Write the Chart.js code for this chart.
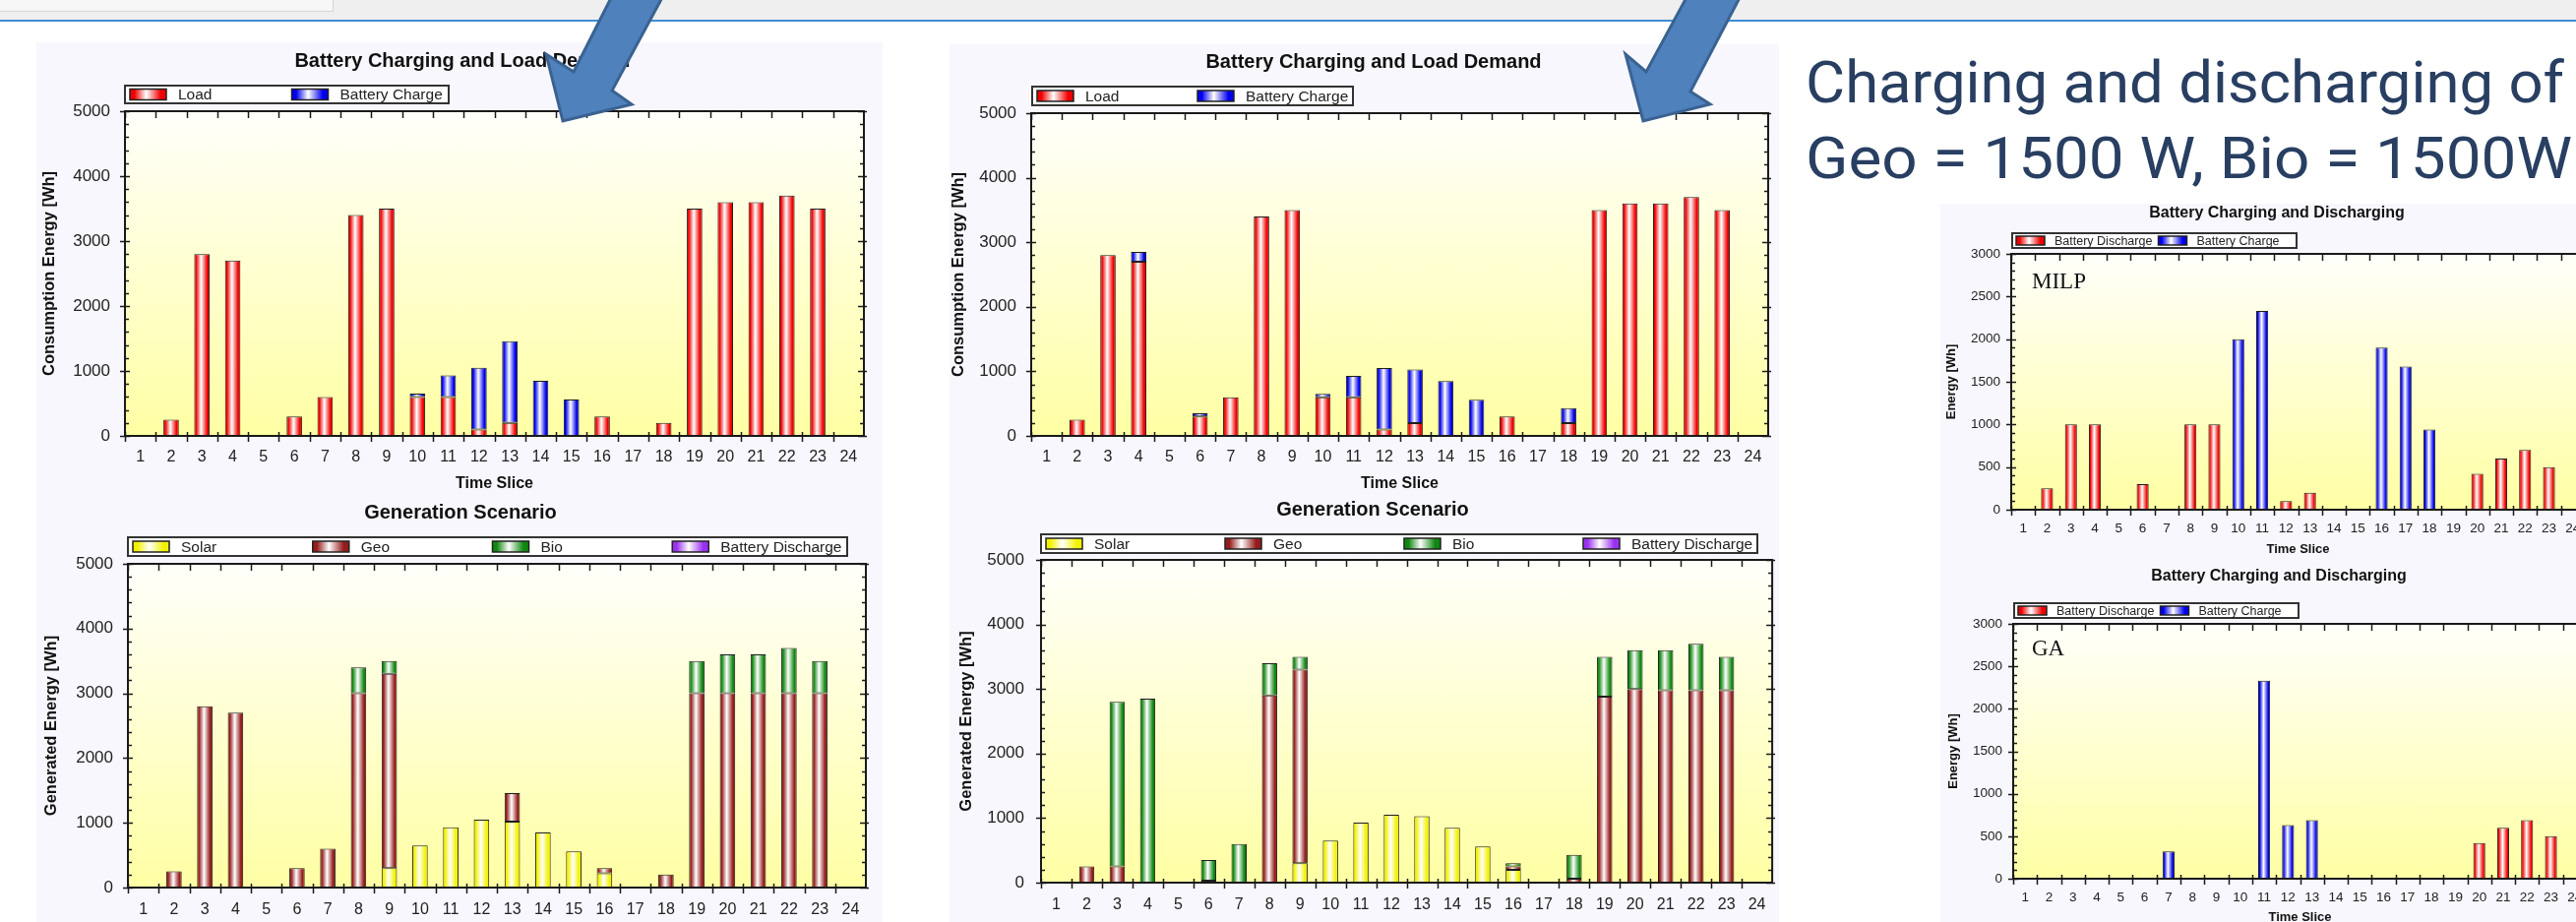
<!DOCTYPE html>
<html>
<head>
<meta charset="utf-8">
<script src="https://cdn.jsdelivr.net/npm/chart.js@4.4.1/dist/chart.umd.min.js"></script>
<style>
body{margin:0;width:2618px;height:937px;overflow:hidden;position:relative;background:#fff;font-family:'Liberation Sans',Arial,sans-serif}
.abs{position:absolute}
.panel{position:absolute;background:#f7f7fd}
canvas{position:absolute}
.head{position:absolute;left:1835px;font-family:Roboto,'Liberation Sans',sans-serif;font-size:59px;line-height:59px;color:#283f62;white-space:pre;transform-origin:0 0}
</style>
</head>
<body>
<div class="abs" style="left:0;top:0;width:2618px;height:20px;background:#efefef"></div>
<div class="abs" style="left:0;top:0;width:338px;height:11px;background:#f7f7f7;border-right:1px solid #d6d6d6;border-bottom:1px solid #d6d6d6"></div>
<div class="abs" style="left:0;top:20px;width:2618px;height:2px;background:#3f8fd6"></div>

<div class="panel" style="left:37px;top:43px;width:860px;height:894px"></div>
<div class="panel" style="left:965px;top:45px;width:843px;height:892px"></div>
<div class="panel" style="left:1972px;top:207px;width:646px;height:730px"></div>

<canvas id="loadLeft"></canvas>
<canvas id="genLeft"></canvas>
<canvas id="loadMid"></canvas>
<canvas id="genMid"></canvas>
<canvas id="milpChart"></canvas>
<canvas id="gaChart"></canvas>

<div class="head" id="head1" style="top:54px">Charging and discharging of</div>
<div class="head" id="head2" style="top:131px">Geo = 1500 W, Bio = 1500W</div>

<svg class="abs" style="left:0;top:0;z-index:10" width="2618" height="937">
  <polygon points="624,-8 676,-8 622,92 642,106 572,123 555,55 583,73" fill="#4f81bd" stroke="#3a6291" stroke-width="3"/>
  <polygon points="1717,-8 1771,-8 1718,93 1738,106 1670,123 1652,55 1673,73" fill="#4f81bd" stroke="#3a6291" stroke-width="3"/>
</svg>

<script>
// time slices on the x axis
const slices = ['1','2','3','4','5','6','7','8','9','10','11','12','13','14','15','16','17','18','19','20','21','22','23','24'];
const energy5000 = [0, 1000, 2000, 3000, 4000, 5000];
const energy3000 = [0, 500, 1000, 1500, 2000, 2500, 3000];

// left pair
const loadA      = [0, 250, 2800, 2700, 0, 300, 600, 3400, 3500, 600, 600, 100, 200, 0, 0, 300, 0, 200, 3500, 3600, 3600, 3700, 3500, 0];
const chargeA    = [0, 0, 0, 0, 0, 0, 0, 0, 0, 50, 330, 950, 1260, 850, 560, 0, 0, 0, 0, 0, 0, 0, 0, 0];
const solarA     = [0, 0, 0, 0, 0, 0, 0, 0, 300, 650, 930, 1050, 1020, 850, 560, 220, 0, 0, 0, 0, 0, 0, 0, 0];
const geoA       = [0, 250, 2800, 2700, 0, 300, 600, 3000, 3000, 0, 0, 0, 440, 0, 0, 80, 0, 200, 3000, 3000, 3000, 3000, 3000, 0];
const bioA       = [0, 0, 0, 0, 0, 0, 0, 400, 200, 0, 0, 0, 0, 0, 0, 0, 0, 0, 500, 600, 600, 700, 500, 0];
const dischargeA = [0, 0, 0, 0, 0, 0, 0, 0, 0, 0, 0, 0, 0, 0, 0, 0, 0, 0, 0, 0, 0, 0, 0, 0];

// middle pair
const loadB      = [0, 250, 2800, 2700, 0, 300, 600, 3400, 3500, 600, 600, 100, 200, 0, 0, 300, 0, 200, 3500, 3600, 3600, 3700, 3500, 0];
const chargeB    = [0, 0, 0, 150, 0, 50, 0, 0, 0, 50, 330, 950, 830, 850, 560, 0, 0, 230, 0, 0, 0, 0, 0, 0];
const solarB     = [0, 0, 0, 0, 0, 0, 0, 0, 300, 650, 930, 1050, 1030, 850, 560, 200, 0, 0, 0, 0, 0, 0, 0, 0];
const geoB       = [0, 250, 250, 0, 0, 30, 0, 2900, 3000, 0, 0, 0, 0, 0, 0, 50, 0, 60, 2880, 3000, 2980, 2980, 2980, 0];
const bioB       = [0, 0, 2550, 2850, 0, 320, 600, 500, 200, 0, 0, 0, 0, 0, 0, 50, 0, 370, 620, 600, 620, 720, 520, 0];
const dischargeB = [0, 0, 0, 0, 0, 0, 0, 0, 0, 0, 0, 0, 0, 0, 0, 0, 0, 0, 0, 0, 0, 0, 0, 0];

// right pair
const milpDischarge = [0, 250, 1000, 1000, 0, 300, 10, 1000, 1000, 0, 0, 100, 200, 0, 0, 0, 0, 0, 0, 420, 600, 700, 500, 0];
const milpCharge    = [0, 0, 0, 0, 0, 0, 0, 0, 0, 2000, 2330, 0, 0, 0, 0, 1900, 1680, 940, 0, 0, 0, 0, 0, 0];
const gaDischarge   = [0, 0, 0, 0, 0, 0, 0, 0, 0, 0, 0, 0, 0, 0, 0, 0, 0, 0, 0, 420, 600, 690, 500, 0];
const gaCharge      = [0, 0, 0, 0, 0, 0, 320, 0, 0, 0, 2330, 630, 690, 0, 0, 0, 0, 0, 0, 0, 0, 0, 0, 0];

const RED = ['#f00000', '#ffffff'];
const BLUE = ['#0000ee', '#ffffff'];
const YELLOW = ['#f2f200', '#ffffff'];
const GEO = ['#951c1c', '#ffffff'];
const GREEN = ['#108810', '#ffffff'];
const PURPLE = ['#9a30f0', '#ffffff'];

const FONT = "'Liberation Sans', Arial, sans-serif";
Chart.defaults.font.family = FONT;

function shade(ctx, x0, x1, col) {
    const g = ctx.createLinearGradient(x0, 0, x1, 0);
    g.addColorStop(0, col[0]);
    g.addColorStop(0.12, col[0]);
    g.addColorStop(0.45, col[1]);
    g.addColorStop(0.85, col[0]);
    g.addColorStop(1, col[0]);
    return g;
}

function barFill(c, col) {
    if (c.type !== 'data') return col[0];
    const xs = c.chart.scales.x;
    if (!xs || !xs.width) return col[0];
    const step = xs.width / c.chart.data.labels.length;
    const cx = xs.getPixelForValue(c.dataIndex);
    return shade(c.chart.ctx, cx - step * 0.25, cx + step * 0.25, col);
}

function decoPlugin(cfg) {
    const bx = cfg.box.x, by = cfg.box.y;
    return {
        id: 'deco',
        beforeDatasetsDraw(chart) {
            const ctx = chart.ctx, a = chart.chartArea;
            const g = ctx.createLinearGradient(0, a.top, 0, a.bottom);
            g.addColorStop(0, '#fffffb');
            g.addColorStop(1, '#ffffa4');
            ctx.save();
            ctx.fillStyle = g;
            ctx.fillRect(a.left, a.top, a.right - a.left, a.bottom - a.top);
            ctx.restore();
        },
        afterDatasetsDraw(chart) {
            const ctx = chart.ctx, a = chart.chartArea;
            const xs = chart.scales.x, ys = chart.scales.y;
            const n = chart.data.labels.length;
            const step = xs.width / n;
            ctx.save();
            ctx.strokeStyle = '#1a1a1a';
            ctx.lineWidth = 2;
            ctx.strokeRect(a.left, a.top, a.right - a.left, a.bottom - a.top);
            ctx.lineWidth = 1.5;
            ctx.beginPath();
            for (let i = 0; i < n; i++) {
                const x = Math.round(xs.getPixelForValue(i) - step / 2) + 0.5;
                ctx.moveTo(x, a.bottom - 4); ctx.lineTo(x, a.bottom + 6);
                ctx.moveTo(x, a.top); ctx.lineTo(x, a.top + 7);
            }
            for (let v = 0; v <= cfg.yMax; v += cfg.yMinor) {
                const y = Math.round(ys.getPixelForValue(v)) + 0.5;
                if (v % cfg.yTicks[1] === 0) {
                    ctx.moveTo(a.left - 5, y); ctx.lineTo(a.left + 5, y);
                    ctx.moveTo(a.right - 6, y); ctx.lineTo(a.right + 3, y);
                } else {
                    ctx.moveTo(a.left, y); ctx.lineTo(a.left + 4, y);
                    ctx.moveTo(a.right - 4, y); ctx.lineTo(a.right, y);
                }
            }
            ctx.stroke();
            ctx.restore();
        },
        afterDraw(chart) {
            const ctx = chart.ctx;
            ctx.save();
            // chart title
            ctx.fillStyle = '#111';
            ctx.textAlign = 'center';
            ctx.textBaseline = 'middle';
            ctx.font = 'bold ' + cfg.title.size + 'px ' + FONT;
            ctx.fillText(cfg.title.text, cfg.title.x - bx, cfg.title.y - by);

            // boxed legend
            const lg = cfg.legend;
            const x1 = lg.x1 - bx, y1 = lg.y1 - by, w = lg.x2 - lg.x1, h = lg.y2 - lg.y1;
            ctx.fillStyle = '#ffffff';
            ctx.fillRect(x1, y1, w, h);
            ctx.strokeStyle = '#333';
            ctx.lineWidth = 2;
            ctx.strokeRect(x1, y1, w, h);
            const slot = w / cfg.series.length;
            ctx.textAlign = 'left';
            ctx.font = lg.size + 'px ' + FONT;
            cfg.series.forEach((s, i) => {
                const sx = x1 + i * slot + lg.off;
                const sy = y1 + (h - lg.sh) / 2;
                ctx.fillStyle = shade(ctx, sx, sx + lg.sw, s.col);
                ctx.fillRect(sx, sy, lg.sw, lg.sh);
                ctx.strokeStyle = '#222';
                ctx.lineWidth = 1.5;
                ctx.strokeRect(sx, sy, lg.sw, lg.sh);
                ctx.fillStyle = '#222';
                ctx.fillText(s.label, sx + lg.sw + lg.gap, y1 + h / 2 + 1);
            });

            // method tag
            if (cfg.note) {
                ctx.font = cfg.note.size + "px 'Liberation Serif', 'Times New Roman', serif";
                ctx.fillStyle = '#111';
                ctx.textBaseline = 'middle';
                ctx.fillText(cfg.note.text, cfg.note.x - bx, cfg.note.y - by);
            }
            ctx.restore();
        }
    };
}

function makeChart(id, cfg) {
    const cv = document.getElementById(id);
    const b = cfg.box;
    cv.width = b.w;
    cv.height = b.h;
    cv.style.left = b.x + 'px';
    cv.style.top = b.y + 'px';
    const L = cfg.area.l - b.x, T = cfg.area.t - b.y, R = cfg.area.r - b.x, B = cfg.area.b - b.y;
    const xPad = cfg.xLabelY - cfg.area.b - cfg.xTick * 0.6;
    const yPad = cfg.area.l - cfg.yLabelRight;
    const yTitleLh = cfg.yTitle.size * 1.2;
    const yTitlePad = cfg.yTitle.x - b.x - yTitleLh / 2;
    let xTitle = { display: false };
    if (cfg.xTitle) {
        const lh = cfg.xTitle.size * 1.2;
        xTitle = {
            display: true,
            text: cfg.xTitle.text,
            color: '#111',
            font: { size: cfg.xTitle.size, weight: 'bold' },
            padding: { top: 0, bottom: b.h - (cfg.xTitle.y - b.y) - lh / 2 }
        };
    }

    new Chart(cv, {
        type: 'bar',
        data: {
            labels: slices,
            datasets: cfg.series.map(s => ({
                label: s.label,
                data: s.data,
                backgroundColor: c => barFill(c, s.col),
                borderColor: '#1e1e1e',
                borderWidth: 1,
                borderSkipped: false,
                barPercentage: 0.5,
                categoryPercentage: 1
            }))
        },
        options: {
            responsive: false,
            animation: false,
            events: [],
            layout: { padding: { left: 0, top: T, right: b.w - R, bottom: 0 } },
            plugins: {
                legend: { display: false },
                title: { display: false },
                tooltip: { enabled: false }
            },
            scales: {
                x: {
                    stacked: true,
                    grid: { display: false, drawTicks: false },
                    border: { display: false },
                    ticks: { color: '#222', font: { size: cfg.xTick }, padding: xPad, maxRotation: 0, autoSkip: false },
                    title: xTitle,
                    afterFit: s => { s.height = b.h - B; }
                },
                y: {
                    stacked: true,
                    min: 0,
                    max: cfg.yMax,
                    grid: { display: false, drawTicks: false },
                    border: { display: false },
                    ticks: { color: '#222', font: { size: cfg.yTick }, padding: yPad, callback: v => String(v) },
                    afterBuildTicks: s => { s.ticks = cfg.yTicks.map(v => ({ value: v })); },
                    title: {
                        display: true,
                        text: cfg.yTitle.text,
                        color: '#111',
                        font: { size: cfg.yTitle.size, weight: 'bold' },
                        padding: { top: yTitlePad, bottom: 0 }
                    },
                    afterFit: s => { s.width = L; }
                }
            }
        },
        plugins: [decoPlugin(cfg)]
    });
}

const bigLegend = { sw: 37, sh: 11, off: 5, gap: 12, size: 15.5 };
const smallLegend = { sw: 29, sh: 9, off: 4, gap: 10, size: 12.5 };

makeChart('loadLeft', {
    box: { x: 37, y: 43, w: 860, h: 462 },
    area: { l: 127, t: 113, r: 878, b: 443 },
    title: { text: 'Battery Charging and Load Demand', x: 470, y: 62, size: 20 },
    legend: Object.assign({ x1: 127, y1: 87, x2: 456, y2: 105 }, bigLegend),
    yTitle: { text: 'Consumption Energy [Wh]', x: 50, size: 16.5 },
    xTitle: { text: 'Time Slice', y: 492, size: 16 },
    xTick: 16, yTick: 17, xLabelY: 465, yLabelRight: 112,
    yMax: 5000, yTicks: energy5000, yMinor: 200,
    series: [
        { label: 'Load', data: loadA, col: RED },
        { label: 'Battery Charge', data: chargeA, col: BLUE }
    ]
});

makeChart('genLeft', {
    box: { x: 37, y: 500, w: 860, h: 437 },
    area: { l: 130, t: 573, r: 880, b: 902 },
    title: { text: 'Generation Scenario', x: 468, y: 521, size: 20 },
    legend: Object.assign({ x1: 130, y1: 546, x2: 861, y2: 565 }, bigLegend),
    yTitle: { text: 'Generated Energy [Wh]', x: 52, size: 16.5 },
    xTitle: null,
    xTick: 16, yTick: 17, xLabelY: 925, yLabelRight: 115,
    yMax: 5000, yTicks: energy5000, yMinor: 200,
    series: [
        { label: 'Solar', data: solarA, col: YELLOW },
        { label: 'Geo', data: geoA, col: GEO },
        { label: 'Bio', data: bioA, col: GREEN },
        { label: 'Battery Discharge', data: dischargeA, col: PURPLE }
    ]
});

makeChart('loadMid', {
    box: { x: 965, y: 45, w: 843, h: 460 },
    area: { l: 1048, t: 115, r: 1797, b: 443 },
    title: { text: 'Battery Charging and Load Demand', x: 1396, y: 63, size: 20 },
    legend: Object.assign({ x1: 1049, y1: 88, x2: 1375, y2: 107 }, bigLegend),
    yTitle: { text: 'Consumption Energy [Wh]', x: 974, size: 16.5 },
    xTitle: { text: 'Time Slice', y: 492, size: 16 },
    xTick: 16, yTick: 17, xLabelY: 465, yLabelRight: 1033,
    yMax: 5000, yTicks: energy5000, yMinor: 200,
    series: [
        { label: 'Load', data: loadB, col: RED },
        { label: 'Battery Charge', data: chargeB, col: BLUE }
    ]
});

makeChart('genMid', {
    box: { x: 965, y: 500, w: 843, h: 437 },
    area: { l: 1058, t: 569, r: 1804, b: 897 },
    title: { text: 'Generation Scenario', x: 1395, y: 518, size: 20 },
    legend: Object.assign({ x1: 1058, y1: 543, x2: 1786, y2: 562 }, bigLegend),
    yTitle: { text: 'Generated Energy [Wh]', x: 982, size: 16.5 },
    xTitle: null,
    xTick: 16, yTick: 17, xLabelY: 920, yLabelRight: 1041,
    yMax: 5000, yTicks: energy5000, yMinor: 200,
    series: [
        { label: 'Solar', data: solarB, col: YELLOW },
        { label: 'Geo', data: geoB, col: GEO },
        { label: 'Bio', data: bioB, col: GREEN },
        { label: 'Battery Discharge', data: dischargeB, col: PURPLE }
    ]
});

makeChart('milpChart', {
    box: { x: 1972, y: 207, w: 700, h: 362 },
    area: { l: 2044, t: 258, r: 2627, b: 518 },
    title: { text: 'Battery Charging and Discharging', x: 2314, y: 217, size: 16 },
    legend: Object.assign({ x1: 2045, y1: 237, x2: 2334, y2: 252 }, smallLegend),
    yTitle: { text: 'Energy [Wh]', x: 1983, size: 13 },
    xTitle: { text: 'Time Slice', y: 558, size: 13 },
    xTick: 13.5, yTick: 13.5, xLabelY: 537, yLabelRight: 2033,
    yMax: 3000, yTicks: energy3000, yMinor: 100,
    note: { text: 'MILP', x: 2065, y: 287, size: 23 },
    series: [
        { label: 'Battery Discharge', data: milpDischarge, col: RED },
        { label: 'Battery Charge', data: milpCharge, col: BLUE }
    ]
});

makeChart('gaChart', {
    box: { x: 1972, y: 566, w: 700, h: 380 },
    area: { l: 2046, t: 634, r: 2629, b: 893 },
    title: { text: 'Battery Charging and Discharging', x: 2316, y: 586, size: 16 },
    legend: Object.assign({ x1: 2047, y1: 613, x2: 2336, y2: 628 }, smallLegend),
    yTitle: { text: 'Energy [Wh]', x: 1985, size: 13 },
    xTitle: { text: 'Time Slice', y: 932, size: 13 },
    xTick: 13.5, yTick: 13.5, xLabelY: 912, yLabelRight: 2035,
    yMax: 3000, yTicks: energy3000, yMinor: 100,
    note: { text: 'GA', x: 2065, y: 660, size: 23 },
    series: [
        { label: 'Battery Discharge', data: gaDischarge, col: RED },
        { label: 'Battery Charge', data: gaCharge, col: BLUE }
    ]
});

// squeeze the slide heading to the width it has in the slide
function fitHead(id, target) {
    const el = document.getElementById(id);
    const w = el.getBoundingClientRect().width;
    el.style.transform = 'scaleX(' + (target / w) + ')';
}
fitHead('head1', 771);
fitHead('head2', 779);
</script>
</body>
</html>
